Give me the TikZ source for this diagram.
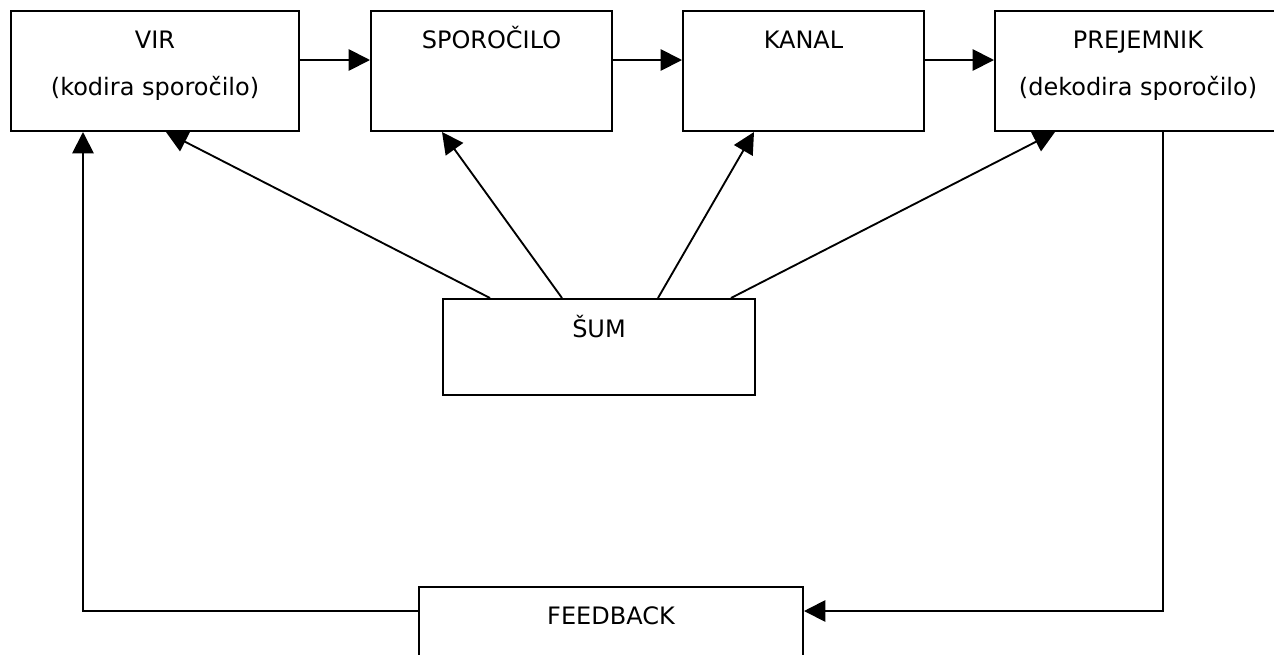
\documentclass[tikz,border=0pt]{standalone}
\usepackage{fontspec}
\setmainfont{DejaVu Sans}
\usetikzlibrary{calc}
\usetikzlibrary{arrows.meta, positioning}
\tikzset{>={Triangle[length=16pt,width=16pt]}}
\tikzset{
  box/.style={draw, line width=1.5pt, rectangle, inner sep=0pt},
  txt/.style={anchor=base, inner sep=0pt, font=\fontsize{18}{21}\selectfont},
  conn/.style={->, line width=1.4pt}
}

\begin{document}
\begin{tikzpicture}[x=0.75pt, y=-0.75pt]
      \useasboundingbox (0,0) rectangle (1274,654);

      \node (vir) at (155, 71) [box, minimum width=216pt, minimum height=90pt] {};
      \node (spor) at (491.5, 71) [box, minimum width=180.75pt, minimum height=90pt] {};
      \node (kanal) at (803.5, 71) [box, minimum width=180.75pt, minimum height=90pt] {};
      \node (prej) at (1138, 71) [box, minimum width=214.5pt, minimum height=90pt] {};
      \node (sum) at (599, 347) [box, minimum width=234pt, minimum height=72pt] {};
      \node (fb) at (611, 635) [box, minimum width=288pt, minimum height=72pt] {};

      \node (vir-a) at (155, 48) [txt] {VIR};
      \node (vir-b) at (155, 95) [txt] {(kodira sporočilo)};
      \node (spor-a) at (491.5, 48) [txt] {SPOROČILO};
      \node (kanal-a) at (803.5, 48) [txt] {KANAL};
      \node (prej-a) at (1138, 48) [txt] {PREJEMNIK};
      \node (prej-b) at (1138, 95) [txt] {(dekodira sporočilo)};
      \node (sum-a) at (599, 337) [txt] {ŠUM};
      \node (fb-a) at (611, 624) [txt] {FEEDBACK};

      \draw [conn] (vir.east |- 0,60) -- (spor.west |- 0,60);
      \draw [conn] (spor.east |- 0,60) -- (kanal.west |- 0,60);
      \draw [conn] (kanal.east |- 0,60) -- (prej.west |- 0,60);

      % noise
      \draw [conn] ($(sum.north west)+(48,0)$) -- ($(vir.south west)+(156,0)$);
      \draw [conn] ($(sum.north west)+(120,0)$) -- ($(spor.south west)+(72,0)$);
      \draw [conn] ($(sum.north west)+(216,0)$) -- ($(kanal.south west)+(72,0)$);
      \draw [conn] ($(sum.north west)+(289,0)$) -- ($(prej.south west)+(61,0)$);

      % feedback loop
      \draw [conn] (prej.south -| 1163,0) |- (fb.east |- 0,611);
      \draw [conn] (fb.west |- 0,611) -| (vir.south -| 83,0);
    \end{tikzpicture}
\end{document}
